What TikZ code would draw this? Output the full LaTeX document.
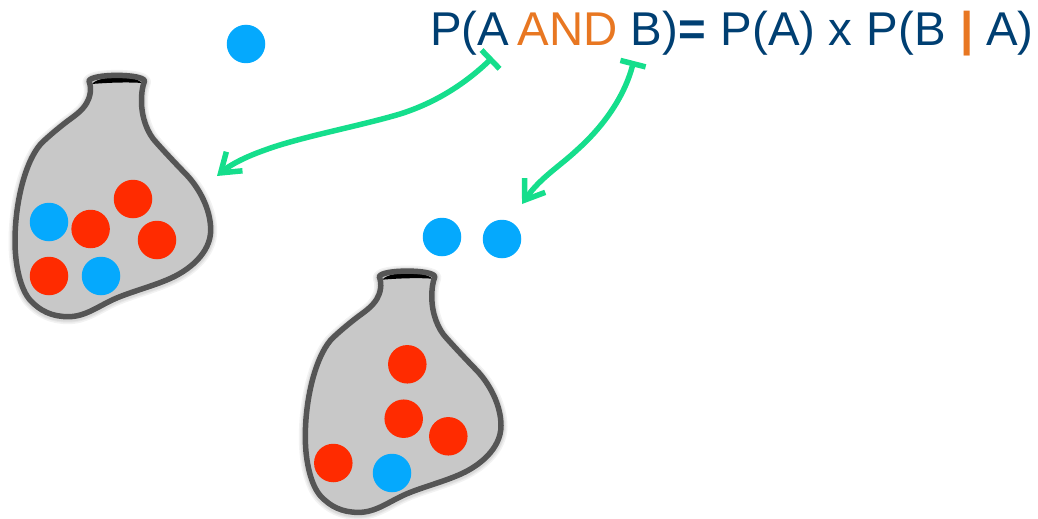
\documentclass[tikz,border=0pt]{standalone}
\usepackage{fontspec}
\setmainfont{Liberation Sans}
\usetikzlibrary{arrows.meta}
\definecolor{navy}{HTML}{003F72}
\definecolor{amber}{HTML}{E87722}
\definecolor{mint}{HTML}{15DE8C}
\definecolor{ballblue}{HTML}{05A9FD}
\definecolor{ballred}{HTML}{FF2B00}
\definecolor{bagfill}{HTML}{C8C8C8}
\definecolor{bagline}{HTML}{555555}
% Outline of a bag, starting at the left end of its rim
\newcommand{\bagoutline}{
  (0,0) .. controls (2,-7.5) and (54,-7.5) .. (55.5,0)
  .. controls (53,7) and (52.5,13) .. (52.5,20)
  .. controls (52.5,36) and (58,52) .. (67.7,62)
  .. controls (76.7,72) and (87,83) .. (97.7,94)
  .. controls (110,107) and (121.7,128) .. (121.7,149)
  .. controls (121.7,172) and (100,190) .. (77.7,199)
  .. controls (62,205.6) and (43,210.6) .. (27.7,217)
  .. controls (10,224.5) and (-3,235.7) .. (-20.7,235.7)
  .. controls (-37,235.7) and (-49,230) .. (-59,219)
  .. controls (-68,208.7) and (-74,186) .. (-74,160)
  .. controls (-74,118) and (-62,75.6) .. (-46,60.7)
  .. controls (-38,53.2) and (-30,46.7) .. (-22.3,40.7)
  .. controls (-14,34.5) and (-7,30) .. (-2.3,22)
  .. controls (1,16.4) and (3,8) .. (0,0) -- cycle}
\tikzset{
  x=1pt, y=-1pt,
  blueball/.style={circle, fill=ballblue, minimum size=38.5pt, inner sep=0pt},
  redball/.style={circle, fill=ballred, minimum size=38.5pt, inner sep=0pt},
  pointer/.style={mint, line width=5.5pt, {Bar[width=26pt,length=5pt]}-{Straight Barb[length=18pt,width=25pt,line width=5.5pt]}},
  formula/.style={inner sep=0pt, anchor=base west, text=navy, font=\fontsize{47.4}{47.4}\selectfont},
  bagshadow/.style={draw=black, opacity=.05, line join=round},
  pics/bag/.style={code={
    \draw[bagshadow, line width=13pt, yshift=-1pt] \bagoutline;
    \draw[bagshadow, line width=10pt, yshift=-1pt] \bagoutline;
    \draw[bagshadow, line width=8pt, yshift=-1pt] \bagoutline;
    \fill[bagfill] \bagoutline;
    \fill[black] (3,3) .. controls (10,-6) and (46,-6) .. (53,2) .. controls (40,1) and (20,1.5) .. cycle;
    \draw[draw=bagline, line width=5.5pt, line join=round] \bagoutline;
  }}
}
\begin{document}
\begin{tikzpicture}
\useasboundingbox (0,0) rectangle (1038,519);
\pic at (89,81) {bag};
\pic at (379.3,276.7) {bag};
% loose balls
\node[blueball] (top) at (246,44) {};
\node[blueball] (d1) at (442,237) {};
\node[blueball] (d2) at (502,239) {};
% first bag contents
\node[blueball] (a1) at (49,222) {};
\node[redball] (a2) at (90.6,229) {};
\node[redball] (a3) at (133,199) {};
\node[redball] (a4) at (157,240) {};
\node[redball] (a5) at (49,276) {};
\node[blueball] (a6) at (101,276) {};
% second bag contents
\node[redball] (b1) at (407.3,364.3) {};
\node[redball] (b2) at (403.7,418.7) {};
\node[redball] (b3) at (448.3,436.3) {};
\node[redball] (b4) at (333.3,463) {};
\node[blueball] (b5) at (392,473) {};
% formula
\node[formula] (eq) at (430,46) {P(A\hspace{-5pt} \textcolor{amber}{AND} B)\textbf{=}\hspace{2pt} P(A) x\hspace{1pt} P(B\hspace{2pt} \textcolor{amber}{\textbf{|}}\hspace{-1pt} A)};
% pointers
\coordinate (s1) at (492.5,57.5);
\coordinate (e1) at (217,176);
\coordinate (s2) at (633.7,61);
\coordinate (e2) at (522,204);
\draw[pointer] (s1) .. controls (465,84) and (435,103) .. (400,114) .. controls (360,126) and (300,137) .. (265,150) .. controls (245,157) and (230,165) .. (e1);
\draw[pointer] (s2) .. controls (625,95) and (605,125) .. (577,150) .. controls (560,166) and (540,178) .. (e2);
\end{tikzpicture}
\end{document}
